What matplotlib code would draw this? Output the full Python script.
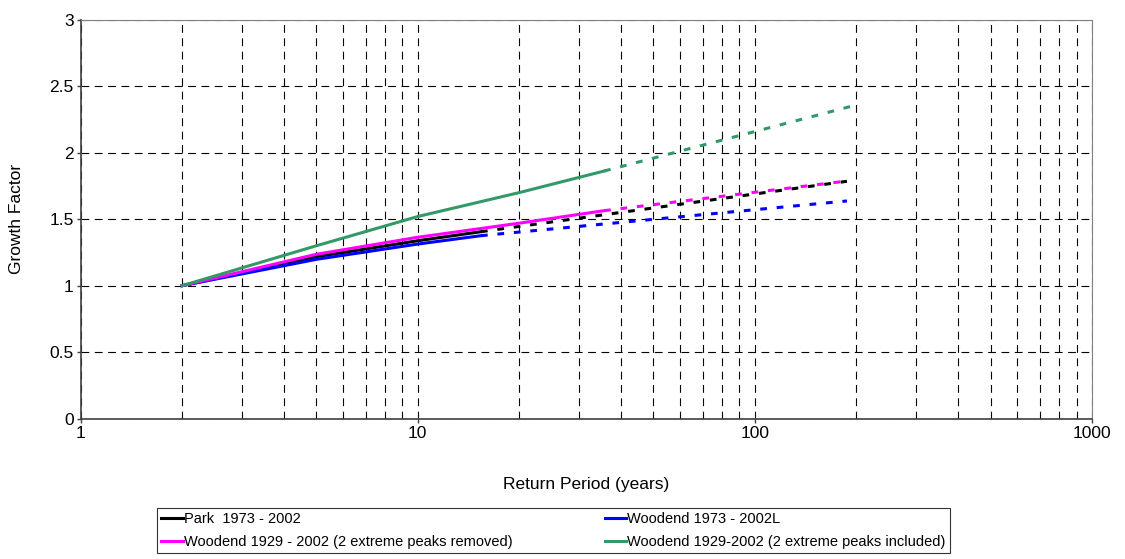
import numpy as np
import matplotlib
matplotlib.use("Agg")
import matplotlib.pyplot as plt
from matplotlib.ticker import LogLocator, FixedLocator, NullFormatter

# return periods (years) and growth factors
park_T = [2, 5, 10, 15.4]
park_gf = [1.0, 1.218, 1.338, 1.406]
park_ext_T = [15.4, 187.5]
park_ext_gf = [1.406, 1.785]

wood73_T = [2, 5, 10, 15.4]
wood73_gf = [1.0, 1.198, 1.313, 1.376]
wood73_ext_T = [15.4, 187.5]
wood73_ext_gf = [1.376, 1.637]

rem_T = [2, 5, 10, 20, 35.7]
rem_gf = [1.0, 1.236, 1.364, 1.47, 1.564]
rem_ext_T = [35.7, 187.5]
rem_ext_gf = [1.564, 1.787]

inc_T = [2, 5, 10, 20, 35.7]
inc_gf = [1.0, 1.30, 1.52, 1.70, 1.862]
inc_ext_T = [35.7, 200]
inc_ext_gf = [1.862, 2.359]

labels = ["Park  1973 - 2002", "Woodend 1973 - 2002L",
          "Woodend 1929 - 2002 (2 extreme peaks removed)",
          "Woodend 1929-2002 (2 extreme peaks included)"]

plt.rcParams['font.family'] = ['Liberation Sans', 'DejaVu Sans']

fig = plt.figure(figsize=(11.25, 5.59), dpi=100)
ax = fig.add_axes([0.0717, 0.251, 0.899, 0.7138])

lw = 2.2
dash = (0, (2.2, 3.2))
ax.plot(park_ext_T, park_ext_gf, color="black", lw=lw, ls=dash)
ax.plot(wood73_ext_T, wood73_ext_gf, color="#0000ff", lw=lw, ls=dash)
ax.plot(rem_ext_T, rem_ext_gf, color="#ff00ff", lw=lw, ls=dash)
ax.plot(inc_ext_T, inc_ext_gf, color="#339966", lw=lw, ls=dash)

l1, = ax.plot(park_T, park_gf, color="black", lw=lw)
l2, = ax.plot(wood73_T, wood73_gf, color="#0000ff", lw=lw)
l3, = ax.plot(rem_T, rem_gf, color="#ff00ff", lw=lw)
l4, = ax.plot(inc_T, inc_gf, color="#339966", lw=lw)

ax.set_xscale("log")
ax.set_xlim(1, 1000)
ax.set_ylim(0, 3)
ax.set_yticks(np.arange(0, 3.01, 0.5))
ax.set_yticklabels(["0", "0.5", "1", "1.5", "2", "2.5", "3"])
ax.xaxis.set_major_locator(FixedLocator([1, 10, 100, 1000]))
ax.set_xticklabels(["1", "10", "100", "1000"])
ax.xaxis.set_minor_locator(LogLocator(base=10, subs=np.arange(2, 10)))
ax.xaxis.set_minor_formatter(NullFormatter())

ax.grid(True, which="both", axis="x", color="black", lw=0.8, ls=(0, (7, 5)))
ax.grid(True, which="major", axis="y", color="black", lw=0.8, ls=(0, (7, 5)))
ax.set_axisbelow(True)
ax.tick_params(which="minor", length=0)
ax.tick_params(which="major", direction="out", length=3, width=1, color="#404040",
               labelsize=12.5)
ax.tick_params(axis="x", pad=2)
ax.tick_params(axis="y", pad=2)

for s in ["top", "right"]:
    ax.spines[s].set_color("#808080")
for s in ["left", "bottom"]:
    ax.spines[s].set_color("#404040")
    ax.spines[s].set_linewidth(1.2)

ax.set_xlabel("Return Period (years)", fontsize=12.5, labelpad=26)
ax.set_ylabel("Growth Factor", fontsize=12.5, labelpad=18)

leg = fig.legend([l1, l3, l2, l4], labels[:1] + labels[2:3] + labels[1:2] + labels[3:],
                 ncol=2, loc="lower left", mode="expand",
                 bbox_to_anchor=(157 / 1125, 6 / 559, (950 - 157) / 1125, 42 / 559),
                 fancybox=False, frameon=True, edgecolor="black",
                 fontsize=10.5, handlelength=1.45, handletextpad=0.1, borderpad=0.3,
                 labelspacing=0.6, columnspacing=0.4, borderaxespad=0)
leg.get_frame().set_linewidth(0.8)

fig.savefig("out.png", dpi=100)
